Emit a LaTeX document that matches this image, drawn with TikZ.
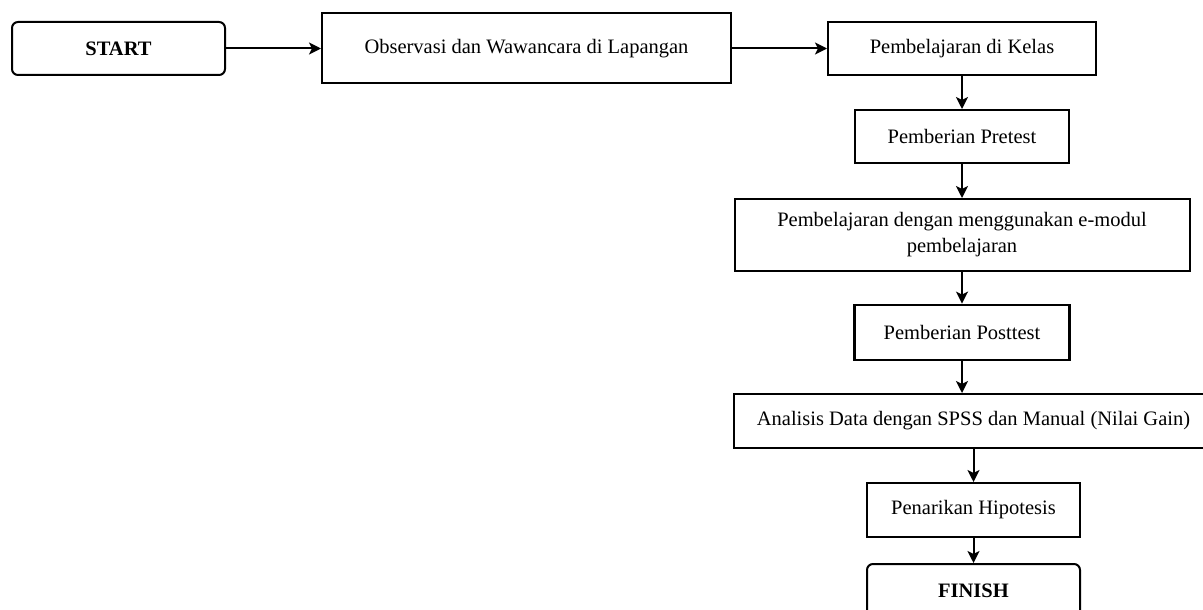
\documentclass[tikz,border=0pt]{standalone}
\usepackage{fontspec}
\setmainfont{Liberation Serif}
\usetikzlibrary{arrows.meta, positioning}

\begin{document}
\begin{tikzpicture}[x=1pt, y=-1pt, line width=2pt,
    every node/.style={font=\fontsize{20.5}{26}\selectfont, inner sep=0pt},
    box/.style={draw, rectangle, minimum height=53pt, align=center},
    ends/.style={box, rounded corners=6pt, font=\fontsize{20.5}{26}\selectfont\bfseries},
    flow/.style={-{Stealth[length=12pt, width=12pt, inset=3pt]}}]
    \useasboundingbox (0,0) rectangle (1203,610);
    \clip (0,0) rectangle (1203,610);

    \node[ends, minimum width=213pt] (start) at (118.5, 48.5) {START};
    \node[box, minimum width=409pt, minimum height=70pt] (obs) at (526.5, 48.5) {Observasi dan Wawancara di Lapangan};
    \node[box, minimum width=268pt] (kelas) at (962, 48.5) {Pembelajaran di Kelas};

    \node[box, minimum width=214pt] (pre) at (962, 136.5) {Pemberian Pretest};
    \node[box, minimum width=455pt, minimum height=72pt] (modul) at (962, 235) {Pembelajaran dengan menggunakan e-modul\\pembelajaran};
    \node[box, minimum width=215pt, minimum height=55pt, line width=2.8pt] (post) at (962, 332.5) {Pemberian Posttest};
    \node[box, minimum width=480pt, minimum height=54pt] (data) at (973.5, 421) {Analisis Data dengan SPSS dan Manual (Nilai Gain)};
    \node[box, minimum width=213pt, minimum height=54pt] (hipo) at (973.5, 510) {Penarikan Hipotesis};
    \node[ends, minimum width=213pt] (finish) at (973.5, 590.5) {FINISH};

    \draw[flow] (start) -- (obs);
    \draw[flow] (obs) -- (kelas);
    \draw[flow] (kelas) -- (pre);
    \draw[flow] (pre) -- (modul);
    \draw[flow] (modul) -- (post);
    \draw[flow] (post.south) -- (post.south |- data.north);
    \draw[flow] (data) -- (hipo);
    \draw[flow] (hipo) -- (finish);
\end{tikzpicture}
\end{document}
